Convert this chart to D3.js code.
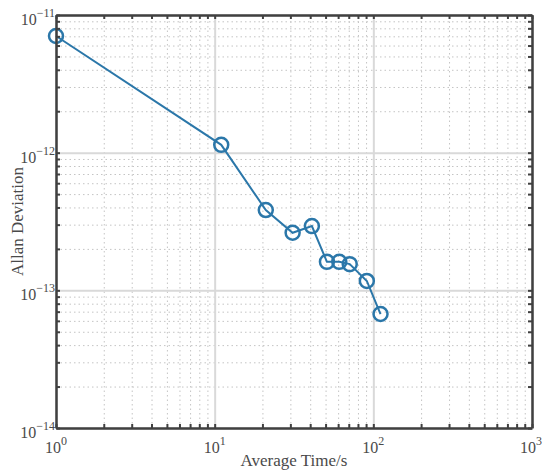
<!DOCTYPE html>
<html>
<head>
<meta charset="utf-8">
<script src="https://cdn.jsdelivr.net/npm/d3@7"></script>
<style>
  body { margin: 0; background: #fff; }
  svg text { font-family: "Liberation Serif", "Times New Roman", "DejaVu Serif", serif; fill: #4a4a4a; }
</style>
</head>
<body>
<div id="chart"></div>
<script>
// averaging times (s) and Allan deviation
var tau = [1, 11, 21, 31, 41, 51, 61, 71, 91, 111];
var adev = [7.04e-12, 1.14e-12, 3.83e-13, 2.62e-13, 2.93e-13, 1.61e-13, 1.61e-13, 1.55e-13, 1.17e-13, 6.73e-14];

var xMajor = [1, 10, 100, 1000];
var xExp = ["0", "1", "2", "3"];
var yMajor = [1e-14, 1e-13, 1e-12, 1e-11];
var yExp = ["\u221214", "\u221213", "\u221212", "\u221211"];

var W = 543, H = 470;
var margin = {top: 15, right: 11, bottom: 42, left: 56};
var width = W - margin.left - margin.right,
    height = H - margin.top - margin.bottom;

var svg = d3.select("#chart").append("svg")
    .attr("width", W).attr("height", H)
    .style("font-family", "'Liberation Serif', 'Times New Roman', serif")
  .append("g")
    .attr("transform", `translate(${margin.left},${margin.top})`);

var x = d3.scaleLog().domain([1, 1000]).range([0, width]);
var y = d3.scaleLog().domain([1e-14, 1e-11]).range([height, 0]);

// minor positions 2..9 of every decade
function minors(majors) {
    var out = [];
    for (var i = 0; i < majors.length - 1; i++)
        for (var k = 2; k <= 9; k++) out.push(majors[i] * k);
    return out;
}
var xMinor = minors(xMajor), yMinor = minors(yMajor);

// minor grid (dotted)
svg.append("g").attr("class", "grid")
    .attr("transform", `translate(0,${height})`)
    .call(d3.axisBottom(x).tickValues(xMinor).tickSize(-height).tickFormat(""))
    .call(g => g.select(".domain").remove())
    .selectAll("line").attr("stroke", "#c4c4c4").attr("stroke-width", 1).attr("stroke-dasharray", "1.5,3");
svg.append("g").attr("class", "grid")
    .call(d3.axisLeft(y).tickValues(yMinor).tickSize(-width).tickFormat(""))
    .call(g => g.select(".domain").remove())
    .selectAll("line").attr("stroke", "#c4c4c4").attr("stroke-width", 1).attr("stroke-dasharray", "1.5,3");

// major grid
svg.append("g")
    .attr("transform", `translate(0,${height})`)
    .call(d3.axisBottom(x).tickValues(xMajor).tickSize(-height).tickFormat(""))
    .call(g => g.select(".domain").remove())
    .selectAll("line").attr("stroke", "#d9d9d9").attr("stroke-width", 2);
svg.append("g")
    .call(d3.axisLeft(y).tickValues(yMajor).tickSize(-width).tickFormat(""))
    .call(g => g.select(".domain").remove())
    .selectAll("line").attr("stroke", "#d9d9d9").attr("stroke-width", 2);

// data line + markers
var color = "#2b77a9";
svg.append("path")
    .datum(tau.map((t, i) => [t, adev[i]]))
    .attr("fill", "none")
    .attr("stroke", color)
    .attr("stroke-width", 2)
    .attr("d", d3.line().x(d => x(d[0])).y(d => y(d[1])));

svg.selectAll("circle.pt")
    .data(tau.map((t, i) => [t, adev[i]]))
    .join("circle")
    .attr("class", "pt")
    .attr("cx", d => x(d[0]))
    .attr("cy", d => y(d[1]))
    .attr("r", 7)
    .attr("fill", "none")
    .attr("stroke", color)
    .attr("stroke-width", 2.5);

// inward ticks on all four sides
var allX = xMajor.concat(xMinor), allY = yMajor.concat(yMinor);
function styleAxis(g) {
    g.select(".domain").attr("stroke", "#404040").attr("stroke-width", 2.5);
    g.selectAll(".tick line").attr("stroke", "#404040").attr("stroke-width", 2);
}
svg.append("g").attr("transform", `translate(0,${height})`)
    .call(d3.axisBottom(x).tickValues(allX).tickSizeInner(-4).tickSizeOuter(0).tickFormat(""))
    .call(styleAxis);
svg.append("g")
    .call(d3.axisTop(x).tickValues(allX).tickSizeInner(-4).tickSizeOuter(0).tickFormat(""))
    .call(styleAxis);
svg.append("g")
    .call(d3.axisLeft(y).tickValues(allY).tickSizeInner(-4).tickSizeOuter(0).tickFormat(""))
    .call(styleAxis);
svg.append("g").attr("transform", `translate(${width},0)`)
    .call(d3.axisRight(y).tickValues(allY).tickSizeInner(-4).tickSizeOuter(0).tickFormat(""))
    .call(styleAxis);

// tick labels with superscript exponents (last one kept inside the window)
xMajor.forEach(function(v, i) {
    var t = svg.append("text")
        .attr("x", Math.min(x(v) + 2, width + 10))
        .attr("y", height + 25)
        .attr("text-anchor", "end")
        .style("font-size", "16px");
    t.append("tspan").text("10");
    t.append("tspan").attr("dy", -8).style("font-size", "12px").text(xExp[i]);
    // shift so the label is roughly centred on its tick
    t.attr("x", Math.min(x(v) + t.node().getComputedTextLength() / 2, width + 10));
});
yMajor.forEach(function(v, i) {
    var t = svg.append("text")
        .attr("x", -1)
        .attr("y", y(v) + 10)
        .attr("text-anchor", "end")
        .style("font-size", "16px");
    t.append("tspan").text("10");
    t.append("tspan").attr("dy", -8).style("font-size", "12px").text(yExp[i]);
});

// axis titles
svg.append("text")
    .attr("x", width / 2)
    .attr("y", height + 38)
    .attr("text-anchor", "middle")
    .style("font-size", "17px")
    .text("Average Time/s");

svg.append("text")
    .attr("transform", `translate(${-33},${height / 2}) rotate(-90)`)
    .attr("text-anchor", "middle")
    .style("font-size", "17px")
    .text("Allan Deviation");
</script>
</body>
</html>
